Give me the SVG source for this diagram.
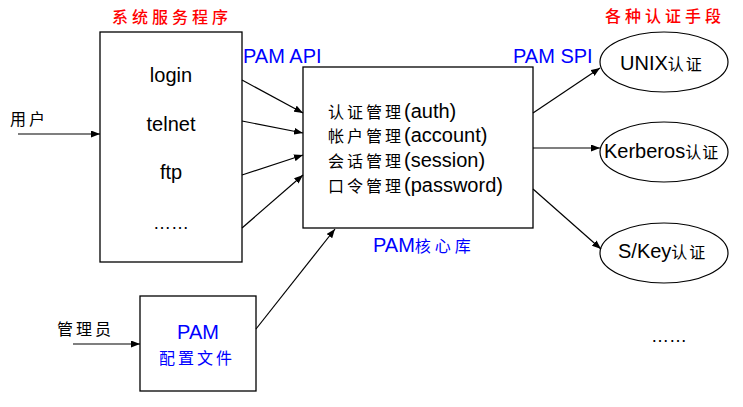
<svg xmlns="http://www.w3.org/2000/svg" width="743" height="407" viewBox="0 0 743 407">
<defs>
<marker id="ah" markerWidth="9" markerHeight="7" refX="9" refY="3.5" orient="auto" markerUnits="userSpaceOnUse">
<path d="M0,0 L9,3.5 L0,7 z" fill="#000"/>
</marker>
<style>
.box{fill:#fff;stroke:#000;stroke-width:1.3}
.ell{fill:#fff;stroke:#000;stroke-width:1.2}
.ln{stroke:#000;stroke-width:1.2;fill:none;marker-end:url(#ah)}
text{font-family:"Liberation Sans","Noto Sans CJK SC",sans-serif;font-size:20px;fill:#000}
.cjk{font-family:"Noto Sans CJK SC",sans-serif;font-size:16px;letter-spacing:3px}
.ttl{font-family:"Noto Sans CJK SC",sans-serif;font-size:16px;letter-spacing:4px;font-weight:500;fill:#f00}
.red{fill:#f00}
.blue{fill:#00f}
.mid{text-anchor:middle}
</style>
</defs>
<g id="title-services"><text class="ttl" x="112" y="23">系统服务程序</text></g>
<g id="title-auth"><text class="ttl" x="605" y="22">各种认证手段</text></g>
<g id="services">
<rect class="box" x="100" y="32" width="142" height="230"/>
<text class="mid" x="171" y="82">login</text>
<text class="mid" x="171" y="131">telnet</text>
<text class="mid" x="171" y="179">ftp</text>
<text class="mid" x="171" y="229" style="font-size:18px">……</text>
</g>
<g id="pam-api-label"><text class="blue" x="243" y="63">PAM API</text></g>
<g id="pam-spi-label"><text class="blue" x="513" y="63">PAM SPI</text></g>
<g id="pam-core">
<rect class="box" x="303" y="67" width="230" height="161"/>
<text x="328" y="118"><tspan class="cjk">认证管理</tspan>(auth)</text>
<text x="328" y="142"><tspan class="cjk">帐户管理</tspan>(account)</text>
<text x="328" y="167"><tspan class="cjk">会话管理</tspan>(session)</text>
<text x="328" y="192"><tspan class="cjk">口令管理</tspan>(password)</text>
<text class="blue" x="373" y="252">PAM<tspan class="cjk" style="fill:#00f;letter-spacing:4px">核心库</tspan></text>
</g>
<g id="pam-config">
<rect class="box" x="140" y="296" width="116" height="95"/>
<text class="blue mid" x="198" y="339">PAM</text>
<text class="cjk blue" x="159" y="364">配置文件</text>
</g>
<g id="user"><text class="cjk" x="10" y="125">用户</text></g>
<g id="admin"><text class="cjk" x="57" y="335">管理员</text></g>
<g id="unix">
<ellipse class="ell" cx="664" cy="62" rx="64" ry="30"/>
<text x="620" y="70">UNIX<tspan class="cjk" style="letter-spacing:2px">认证</tspan></text>
</g>
<g id="kerberos">
<ellipse class="ell" cx="664" cy="152" rx="64" ry="30"/>
<text x="604" y="158">Kerberos<tspan class="cjk" style="letter-spacing:1px">认证</tspan></text>
</g>
<g id="skey">
<ellipse class="ell" cx="664" cy="253" rx="64" ry="30"/>
<text x="618" y="258">S/Key<tspan class="cjk" style="letter-spacing:2px">认证</tspan></text>
</g>
<g id="more"><text x="651" y="342" style="font-size:18px">……</text></g>
<g id="connectors">
<line class="ln" x1="18" y1="134" x2="100" y2="134"/>
<line class="ln" x1="73" y1="344" x2="140" y2="344"/>
<line class="ln" x1="242" y1="80" x2="303" y2="113"/>
<line class="ln" x1="242" y1="121" x2="303" y2="133"/>
<line class="ln" x1="242" y1="175" x2="303" y2="155"/>
<line class="ln" x1="242" y1="228" x2="303" y2="175"/>
<line class="ln" x1="256" y1="329" x2="335" y2="229"/>
<line class="ln" x1="533" y1="113" x2="600" y2="68"/>
<line class="ln" x1="533" y1="148" x2="600" y2="148"/>
<line class="ln" x1="533" y1="189" x2="601" y2="249"/>
</g>
</svg>
